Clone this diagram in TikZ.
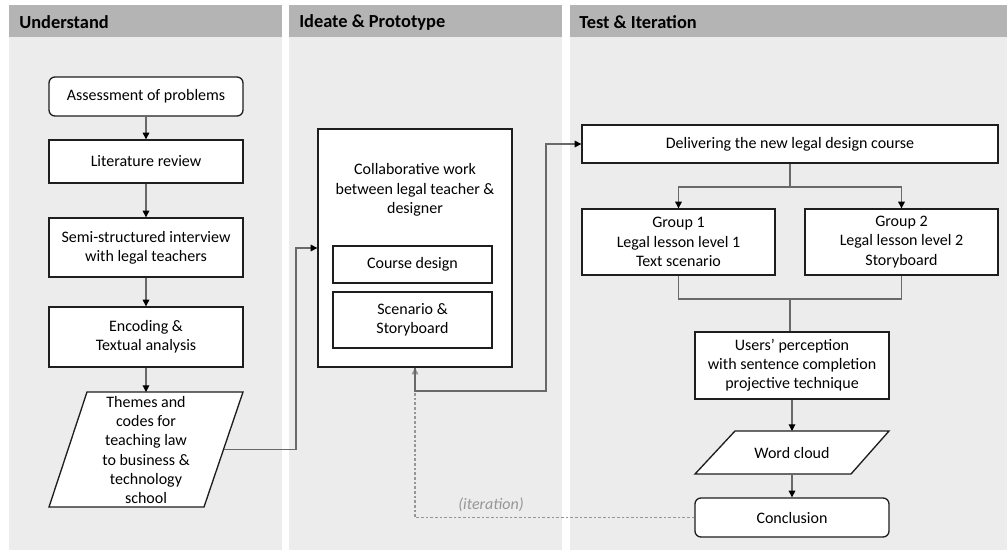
\documentclass[tikz,border=0pt]{standalone}
\usepackage{fontspec}
\setmainfont{Carlito}
\usetikzlibrary{arrows.meta,calc}
\definecolor{hdr}{RGB}{180,180,180}
\definecolor{pnl}{RGB}{236,236,236}
\definecolor{edge}{RGB}{30,30,30}
\definecolor{con}{RGB}{105,105,105}
\definecolor{itc}{RGB}{150,150,150}
\def\px{0.75pt}
\begin{document}
\begin{tikzpicture}[x=0.75pt,y=-0.75pt,
 box/.style={draw=edge,line width=1pt,fill=white,align=center,inner sep=0pt,font=\fontsize{12}{14.4}\selectfont},
 rbox/.style={box,rounded corners=4.5pt},
 txt/.style={align=center,inner sep=0pt,font=\fontsize{12}{14.4}\selectfont},
 para/.style={draw=edge,line width=1pt,fill=white},
 conn/.style={draw=con,line width=0.8pt},
 arr/.style={conn,-{Triangle[length=5pt,width=5pt,color=black]}},
 itr/.style={draw=itc,line width=0.8pt,dash pattern=on 2pt off 1.5pt,-{Triangle[length=5pt,width=5pt,color=itc]}},
 hdrtxt/.style={anchor=west,inner sep=0pt,font=\bfseries\fontsize{13.8}{16}\selectfont},
]
\useasboundingbox (0,0) rectangle (1007,550);
\fill[white] (0,0) rectangle (1007,550);
% panels
\fill[pnl] (9,37) rectangle (282,550);
\fill[hdr] (9,5) rectangle (282,37);
\fill[pnl] (289,37) rectangle (562,550);
\fill[hdr] (289,5) rectangle (562,37);
\fill[pnl] (570,37) rectangle (1007,550);
\fill[hdr] (570,5) rectangle (1007,37);
\node[hdrtxt] (h1) at (19,22) {Understand};
\node[hdrtxt] (h2) at (299,22) {Ideate \& Prototype};
\node[hdrtxt] (h3) at (579,22) {Test \& Iteration};

% Understand column
\node[rbox,minimum width=194*\px,minimum height=39*\px] (assess) at (146,96.5) {Assessment of problems};
\node[box,minimum width=194*\px,minimum height=43*\px] (lit) at (146,161.5) {Literature review};
\node[box,minimum width=194*\px,minimum height=59*\px] (semi) at (146,247.5) {Semi-structured interview\\with legal teachers};
\node[box,minimum width=194*\px,minimum height=60*\px] (enc) at (146,337) {Encoding \&\\Textual analysis};
\draw[para] (87,392) -- (243,392) -- (204,507) -- (49,507) -- cycle;
\node[txt] (themes) at (146,450) {Themes and\\codes for\\teaching law\\to business \&\\technology\\school};
\coordinate (themesT) at (146,392);
\coordinate (themesR) at (223.8,449.5);

% Ideate column
\node[box,minimum width=194*\px,minimum height=238*\px] (collab) at (415,248) {};
\node[txt] (collabtxt) at (415,190) {Collaborative work\\between legal teacher \&\\designer};
\node[box,minimum width=159*\px,minimum height=37*\px] (course) at (412.5,264.5) {Course design};
\node[box,minimum width=159*\px,minimum height=56*\px] (scen) at (412.5,320) {Scenario \&\\Storyboard};

% Test column
\node[box,minimum width=416*\px,minimum height=38*\px] (deliver) at (790,144) {Delivering the new legal design course};
\node[box,minimum width=193*\px,minimum height=66*\px] (g1) at (678.5,242) {Group 1\\Legal lesson level 1\\Text scenario};
\node[box,minimum width=193*\px,minimum height=66*\px] (g2) at (901.5,242) {Group 2\\Legal lesson level 2\\Storyboard};
\node[box,minimum width=194*\px,minimum height=67*\px] (users) at (792,365.5) {Users’ perception\\with sentence completion\\projective technique};
\draw[para] (735,431) -- (889,431) -- (851,474) -- (695,474) -- cycle;
\node[txt] (word) at (792,452.5) {Word cloud};
\coordinate (wordT) at (792,431);
\coordinate (wordB) at (792,474);
\node[rbox,minimum width=194*\px,minimum height=39*\px] (concl) at (792,517.5) {Conclusion};

% iteration feedback
\draw[itr] (concl.west) -| (collab.south);
\node[txt,font=\itshape\fontsize{12}{14.4}\selectfont,text=itc] (itlbl) at (491,505) {(iteration)};

% connectors
\draw[arr] (assess.south) -- (lit.north);
\draw[arr] (lit.south) -- (semi.north);
\draw[arr] (semi.south) -- (enc.north);
\draw[arr] (enc.south) -- (themesT);
\coordinate (b0) at (296,449.5);
\draw[arr] (themesR) -- (b0) |- (collab.west);
\coordinate (b1) at (546,391);
\draw[arr] (collab.south) |- (b1) |- (deliver.west);
\coordinate (split) at (790,187);
\draw[conn] (deliver.south) -- (split);
\draw[arr] (split) -| (g1.north);
\draw[arr] (split) -| (g2.north);
\coordinate (join) at (790,299);
\draw[conn] (g1.south) |- (join);
\draw[conn] (g2.south) |- (join);
\draw[conn] (join) -- (join |- users.north);
\draw[arr] (users.south) -- (wordT);
\draw[arr] (wordB) -- (concl.north);
\end{tikzpicture}
\end{document}
